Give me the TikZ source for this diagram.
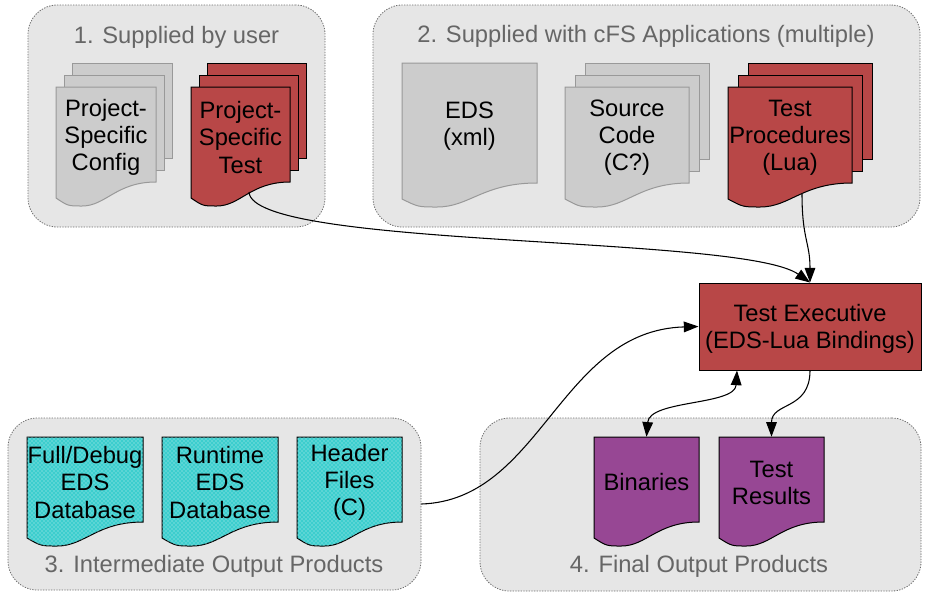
\documentclass[tikz,border=0pt]{standalone}
\usepackage{fontspec}
\setmainfont{Liberation Sans}
\usepackage{tikz}
\usetikzlibrary{arrows.meta,calc,patterns}

\definecolor{grpfill}{RGB}{230,230,230}
\definecolor{grpline}{RGB}{110,110,110}
\definecolor{titlegray}{RGB}{102,102,102}
\definecolor{docgray}{RGB}{204,204,204}
\definecolor{docgrayline}{RGB}{153,153,153}
\definecolor{docred}{RGB}{184,71,71}
\definecolor{docpurple}{RGB}{151,71,148}
\definecolor{doccyan}{RGB}{60,206,206}

% document page with wavy bottom: style, name, left, top, right, bottom, text
\newcommand{\docnode}[7]{%
  \draw[#1] (#3,#4) -- (#5,#4) -- (#5,#6)
    .. controls ({#3+0.6*(#5-#3)},#6) and ({#3+0.5*(#5-#3)},{#6+24}) .. ({#3+0.26*(#5-#3)},{#6+24})
    .. controls ({#3+0.12*(#5-#3)},{#6+24}) .. (#3,{#6+16}) -- cycle;
  \node[doclabel, minimum width={(#5-#3)*0.75pt}, minimum height={(#6-#4+6)*0.75pt}]
    (#2) at ({(#3+#5)/2},{(#4+#6)/2+3}) {#7};}
% two pages stacked behind: style, left, top, right, bottom, x offset
\newcommand{\backpages}[6]{%
  \foreach \k in {2,1} {
    \draw[#1] ({#2+\k*#6},{#3-12*\k}) rectangle ({#4+\k*#6},{#5-12*\k});
  }}

\tikzset{
  groupbox/.style={draw=grpline, fill=grpfill, line width=0.6pt,
    dash pattern=on 1pt off 1pt, rounded corners=22pt, inner sep=0pt},
  grouptitle/.style={anchor=base, text=titlegray, inner sep=0pt},
  doclabel/.style={inner sep=0pt, align=center},
  graydoc/.style={draw=docgrayline, fill=docgray, line width=0.75pt},
  reddoc/.style={draw=black, fill=docred, line width=0.75pt},
  purpledoc/.style={draw=black, fill=docpurple, line width=0.75pt},
  cyandoc/.style={draw=black, fill=doccyan, line width=0.75pt,
    postaction={pattern=crosshatch dots, pattern color=white!70!doccyan}},
  arr/.style={-{Triangle[length=11pt,width=8pt]}, line width=0.8pt},
  arrboth/.style={{Triangle[length=11pt,width=8pt]}-{Triangle[length=11pt,width=8pt]}, line width=0.8pt}
}

\begin{document}
\begin{tikzpicture}[x=0.75pt,y=-0.75pt]
  \fontsize{17.8}{20.3}\selectfont
  \useasboundingbox (0,0) rectangle (930,597);

  % groups
  \node[groupbox, minimum width={297*0.75pt}, minimum height={222*0.75pt}] (grpone) at (176.5,116) {};
  \node[groupbox, minimum width={547*0.75pt}, minimum height={222*0.75pt}] (grptwo) at (646.5,116) {};
  \node[groupbox, minimum width={413*0.75pt}, minimum height={172*0.75pt}] (grpthree) at (214.5,504) {};
  \node[groupbox, minimum width={441*0.75pt}, minimum height={173*0.75pt}] (grpfour) at (700.5,504.5) {};
  \node[grouptitle] (titleone) at (176.5,43) {1. Supplied by user};
  \node[grouptitle] (titletwo) at (646,42) {2. Supplied with cFS Applications (multiple)};
  \node[grouptitle] (titlethree) at (214,572) {3. Intermediate Output Products};
  \node[grouptitle] (titlefour) at (699,572) {4. Final Output Products};

  % 1. supplied by user
  \backpages{graydoc}{56}{87}{156}{182}{8}
  \docnode{graydoc}{cfg}{56}{87}{156}{182}{Project-\\Specific\\Config}
  \backpages{reddoc}{191}{87}{290}{182}{8}
  \docnode{reddoc}{test}{191}{87}{290}{182}{Project-\\Specific\\Test}

  % 2. supplied with applications
  \docnode{graydoc}{eds}{402}{63}{537}{183}{EDS\\(xml)}
  \backpages{graydoc}{565}{87}{689}{183}{10}
  \docnode{graydoc}{src}{565}{87}{689}{183}{Source\\Code\\(C?)}
  \backpages{reddoc}{728}{87}{852}{183}{10}
  \docnode{reddoc}{proc}{728}{87}{852}{183}{Test\\Procedures\\(Lua)}

  % 3. intermediate output
  \docnode{cyandoc}{full}{27}{437}{143}{522}{Full/Debug\\EDS\\Database}
  \docnode{cyandoc}{rt}{162}{437}{278}{522}{Runtime\\EDS\\Database}
  \docnode{cyandoc}{hdr}{297}{437}{402}{522}{Header\\Files\\(C)}

  % 4. final output
  \docnode{purpledoc}{bin}{594}{437}{699}{522}{Binaries}
  \docnode{purpledoc}{res}{719}{437}{824}{522}{Test\\Results}

  % test executive
  \node[reddoc, minimum width={222*0.75pt}, minimum height={87*0.75pt}] (exec) at (810,326.5) {};
  \node[doclabel] (execlabel) at (810,329) {Test Executive\\(EDS-Lua Bindings)};

  % connectors
  \coordinate (testb) at (249,192);
  \coordinate (procb) at (802,194);
  \draw[arr] (testb) .. controls +(3,57) and +(-68,-48) .. (exec.north);
  \draw[arr] (procb) .. controls +(0,45) and +(0,-40) .. (exec.north);
  \draw[arr] (grpthree.east) .. controls +(120,-4) and +(-139,4) .. (exec.west);
  \draw[arrboth] (bin.north) .. controls +(3,-37) and +(-2,35) .. ($(exec.south)+(-73,0)$);
  \draw[arr] (exec.south) .. controls +(0,40) and +(0,-35) .. (res.north);
\end{tikzpicture}
\end{document}
